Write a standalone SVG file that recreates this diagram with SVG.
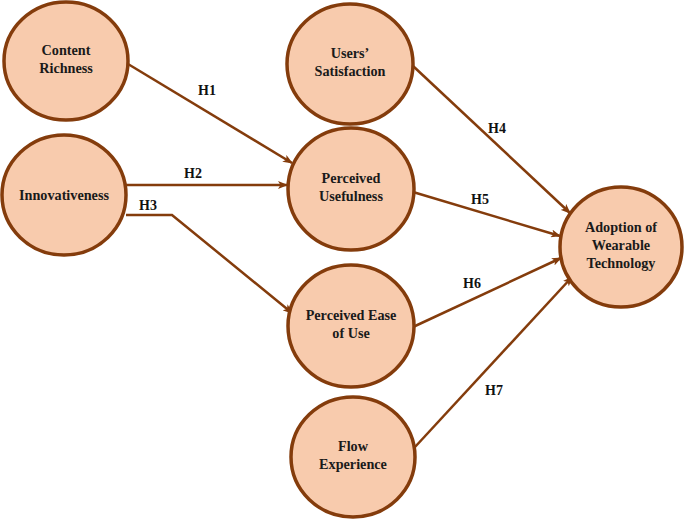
<svg xmlns="http://www.w3.org/2000/svg" width="685" height="520" viewBox="0 0 685 520">
<defs>
<style>
.n{fill:#F8CBAD;stroke:#843C0C;stroke-width:3.5}
.t{font-family:"Liberation Serif","Times New Roman",serif;font-weight:bold;font-size:14.2px;fill:#1a1a1a;text-anchor:middle}
.c{fill:none;stroke:#843C0C;stroke-width:2.5;marker-end:url(#a)}
.l{font-family:"Liberation Serif","Times New Roman",serif;font-weight:bold;font-size:14px;fill:#111;text-anchor:middle}
</style>
<marker id="a" markerWidth="10" markerHeight="8" refX="9" refY="4" orient="auto" markerUnits="userSpaceOnUse">
<path d="M0,0 L10,4 L0,8 L2.5,4 Z" fill="#843C0C"/>
</marker>
</defs>
<rect width="685" height="520" fill="#fff"/>
<g id="connectors">
<path class="c" d="M128,64 L292,163"/>
<path class="c" d="M126,185 L287,185"/>
<path class="c" d="M126,215 L172,215 L292,313"/>
<path class="c" d="M413,66 L570,213"/>
<path class="c" d="M413,192 L560,236"/>
<path class="c" d="M413,327 L561,258"/>
<path class="c" d="M415,447 L572,277"/>
<text class="l" x="207" y="95">H1</text>
<text class="l" x="193" y="178">H2</text>
<text class="l" x="148" y="210">H3</text>
<text class="l" x="497" y="133">H4</text>
<text class="l" x="480" y="204">H5</text>
<text class="l" x="472" y="288">H6</text>
<text class="l" x="494" y="395">H7</text>
</g>
<g id="content-richness">
<ellipse class="n" cx="66" cy="61" rx="62" ry="59"/>
<text class="t" x="66" y="55">Content</text>
<text class="t" x="66" y="73">Richness</text>
</g>
<g id="innovativeness">
<ellipse class="n" cx="64" cy="195" rx="62" ry="60"/>
<text class="t" x="64" y="200">Innovativeness</text>
</g>
<g id="users-satisfaction">
<ellipse class="n" cx="350" cy="64" rx="63" ry="60"/>
<text class="t" x="350" y="58">Users’</text>
<text class="t" x="350" y="76">Satisfaction</text>
</g>
<g id="perceived-usefulness">
<ellipse class="n" cx="351" cy="189" rx="63" ry="61"/>
<text class="t" x="351" y="183">Perceived</text>
<text class="t" x="351" y="201">Usefulness</text>
</g>
<g id="perceived-ease">
<ellipse class="n" cx="351" cy="326" rx="63" ry="61"/>
<text class="t" x="351" y="320">Perceived Ease</text>
<text class="t" x="351" y="338">of Use</text>
</g>
<g id="flow-experience">
<ellipse class="n" cx="353" cy="457" rx="62" ry="60"/>
<text class="t" x="353" y="451">Flow</text>
<text class="t" x="353" y="469">Experience</text>
</g>
<g id="adoption">
<ellipse class="n" cx="621" cy="247" rx="61" ry="60"/>
<text class="t" x="621" y="232">Adoption of</text>
<text class="t" x="621" y="250">Wearable</text>
<text class="t" x="621" y="268">Technology</text>
</g>
</svg>
